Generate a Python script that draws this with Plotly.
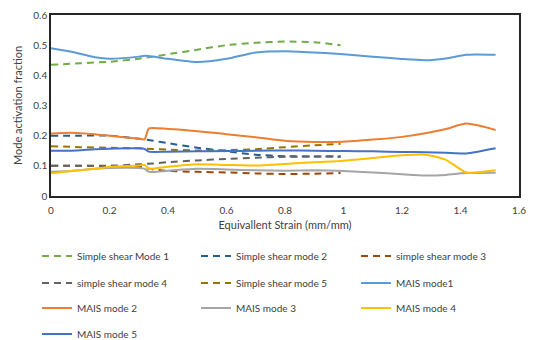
import plotly.graph_objects as go

# strain grids
ss_strain = [0, 0.1, 0.2, 0.3, 0.35, 0.4, 0.5, 0.6, 0.7, 0.8, 0.9, 0.99]
mais_strain = [0, 0.07, 0.15, 0.2, 0.3, 0.32, 0.335, 0.4, 0.5, 0.6, 0.7, 0.8,
               0.9, 1.0, 1.1, 1.2, 1.28, 1.35, 1.42, 1.52]

# simple shear series
ss_mode1 = [0.435, 0.44, 0.445, 0.455, 0.462, 0.47, 0.485, 0.5, 0.508, 0.512, 0.51, 0.5]
ss_mode2 = [0.2, 0.2, 0.2, 0.19, 0.183, 0.175, 0.16, 0.148, 0.137, 0.132, 0.131, 0.13]
ss_mode3 = [0.1, 0.1, 0.1, 0.098, 0.088, 0.083, 0.08, 0.078, 0.075, 0.073, 0.074, 0.076]
ss_mode4 = [0.1, 0.1, 0.1, 0.105, 0.108, 0.112, 0.118, 0.123, 0.127, 0.13, 0.131, 0.132]
ss_mode5 = [0.165, 0.162, 0.16, 0.158, 0.156, 0.154, 0.151, 0.152, 0.155, 0.162, 0.168, 0.173]

# MAIS series
mais_mode1 = [0.49, 0.478, 0.46, 0.455, 0.462, 0.465, 0.464, 0.455, 0.444, 0.455, 0.476, 0.48,
              0.476, 0.47, 0.462, 0.454, 0.45, 0.456, 0.468, 0.468]
mais_mode2 = [0.207, 0.21, 0.205, 0.2, 0.19, 0.188, 0.224, 0.222, 0.215, 0.205, 0.195, 0.183,
              0.179, 0.18, 0.187, 0.196, 0.208, 0.222, 0.24, 0.219]
mais_mode3 = [0.08, 0.083, 0.09, 0.093, 0.093, 0.09, 0.08, 0.084, 0.09, 0.088, 0.085, 0.084,
              0.085, 0.083, 0.078, 0.072, 0.068, 0.07, 0.076, 0.077]
mais_mode4 = [0.075, 0.083, 0.09, 0.097, 0.101, 0.103, 0.09, 0.097, 0.105, 0.103, 0.101, 0.106,
              0.112, 0.117, 0.126, 0.135, 0.137, 0.12, 0.078, 0.085]
mais_mode5 = [0.15, 0.15, 0.155, 0.157, 0.158, 0.156, 0.147, 0.147, 0.148, 0.149, 0.15, 0.151,
              0.15, 0.149, 0.148, 0.146, 0.145, 0.143, 0.141, 0.158]

x_ticks = [0, 0.2, 0.4, 0.6, 0.8, 1, 1.2, 1.4, 1.6]
x_tick_labels = ["0", "0.2", "0.4", "0.6", "0.8", "1", "1.2", "1.4", "1.6"]
y_ticks = [0, 0.1, 0.2, 0.3, 0.4, 0.5, 0.6]
y_tick_labels = ["0", "0.1", "0.2", "0.3", "0.4", "0.5", "0.6"]

series = [
    ("Simple shear Mode 1", ss_strain, ss_mode1, "#70AD47", True),
    ("Simple shear mode 2", ss_strain, ss_mode2, "#255E91", True),
    ("simple shear mode 3", ss_strain, ss_mode3, "#9E480E", True),
    ("simple shear mode 4", ss_strain, ss_mode4, "#636363", True),
    ("Simple shear mode 5", ss_strain, ss_mode5, "#997300", True),
    ("MAIS mode1", mais_strain, mais_mode1, "#5B9BD5", False),
    ("MAIS mode 2", mais_strain, mais_mode2, "#ED7D31", False),
    ("MAIS mode 3", mais_strain, mais_mode3, "#A5A5A5", False),
    ("MAIS mode 4", mais_strain, mais_mode4, "#FFC000", False),
    ("MAIS mode 5", mais_strain, mais_mode5, "#4472C4", False),
]

FONT = "Lato"
W, H = 526, 332          # page body has an 8px margin
ML, MT, MR, MB = 43, 7, 15, 144
PW = W - ML - MR
PH = H - MT - MB

fig = go.Figure()
legends = {}
col_px = [29, 188, 348]          # legend left edges (figure px)
row_px = [248, 275, 300, 326]    # legend row anchors (figure px)
for i, (name, xs, ys, color, dashed) in enumerate(series):
    key = "legend" if i == 0 else f"legend{i+1}"
    fig.add_trace(go.Scatter(
        x=xs, y=ys, mode="lines", name=name, legend=key, showlegend=True,
        line=dict(color=color, width=2, shape="spline", smoothing=0.6,
                  dash="7px,5px" if dashed else "solid"),
    ))
    r, c = divmod(i, 3)
    legends[key] = dict(
        orientation="h", xanchor="left", yanchor="middle",
        x=(col_px[c] - ML) / PW, y=(MT + PH - row_px[r]) / PH,
        font=dict(family=FONT, size=10, color="#404040"),
        bgcolor="rgba(0,0,0,0)", itemwidth=30,
    )

fig.update_layout(
    width=W, height=H, showlegend=True,
    margin=dict(l=ML, r=MR, t=MT, b=MB, autoexpand=False),
    paper_bgcolor="white", plot_bgcolor="white",
    font=dict(family=FONT, size=10, color="#404040"),
    xaxis=dict(range=[0, 1.6], tickvals=x_ticks, ticktext=x_tick_labels,
               showgrid=False, zeroline=False, showline=True, mirror=True,
               linecolor="#262626", linewidth=1.5, ticks="", automargin=False,
               ticklabelstandoff=4,
               title=dict(text="Equivallent Strain (mm/mm)", font=dict(size=11, family=FONT),
                          standoff=7),
               tickfont=dict(size=10, family=FONT)),
    yaxis=dict(range=[0, 0.6], tickvals=y_ticks, ticktext=y_tick_labels,
               showgrid=False, zeroline=False, showline=True, mirror=True,
               linecolor="#262626", linewidth=1.5, ticks="", automargin=False,
               title=dict(text="Mode activation fraction", font=dict(size=11, family=FONT),
                          standoff=8),
               tickfont=dict(size=10, family=FONT)),
    **legends,
)

fig.write_html("out.html")
